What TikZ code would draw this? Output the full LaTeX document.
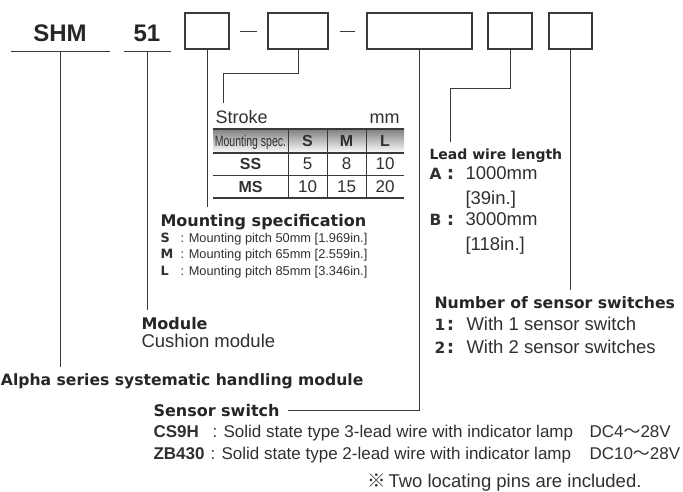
\documentclass[tikz,border=0pt]{standalone}
\usepackage{fontspec}
\setmainfont{Liberation Sans}
\newfontfamily\dejavu{DejaVu Sans}
\newfontfamily\cjk{Noto Sans CJK JP}
\usepackage{xcolor}
\usepackage{graphicx}
\usepackage{tikz}
\definecolor{ink}{HTML}{303030}
\definecolor{wire}{HTML}{3A3A3A}
\definecolor{shade}{HTML}{E4E4E4}
\newcommand{\fs}[1]{\fontsize{#1}{#1}\selectfont}

\begin{document}
\begin{tikzpicture}[x=1pt, y=-1pt, line width=1pt, wire,
  txt/.style={anchor=base west, inner sep=0pt, text=ink},
  head/.style={txt, text=black!85, font=\dejavu\bfseries\fs{16}},
  body/.style={txt, font=\fs{18.5}},
  pitch/.style={txt, font=\fs{12.8}},
  swrow/.style={txt, font=\fs{17}},
  series/.style={anchor=south, inner sep=0pt, text depth=9pt, text=black!85, font=\bfseries\fs{24}},
  codebox/.style={draw=wire, line width=1.2pt, minimum height=36pt, inner sep=0pt},
  tcell/.style={anchor=base, inner sep=0pt, text=ink, font=\fs{17}},
  leader/.style={shorten >=6pt}]
  \useasboundingbox (0,0) rectangle (683,491);

  \node[series, minimum width=98pt] (shm) at (60,51) {SHM};
  \node[series, minimum width=46pt] (num) at (147,51) {51};
  \draw (shm.south west) -- (shm.south east);
  \draw (num.south west) -- (num.south east);

  \node[codebox, minimum width=44pt] (b1) at (207,31) {};
  \node[codebox, minimum width=60pt] (b2) at (298,31) {};
  \node[codebox, minimum width=105pt] (b3) at (419.5,31) {};
  \node[codebox, minimum width=44pt] (b4) at (510,31) {};
  \node[codebox, minimum width=43pt] (b5) at (570.5,31) {};
  \draw ([xshift=10pt]b1.east) -- ([xshift=-10pt]b2.west);
  \draw ([xshift=11pt]b2.east) -- ([xshift=-11pt]b3.west);

  \node[body, font=\fs{18}] (stroke) at (215,123) {Stroke};
  \node[body, font=\fs{18}, anchor=base east] (unit) at (400,123) {mm};
  \fill[shade] (213,129) rectangle (404,153);
  \draw[line width=2pt] (213,129) -- (404,129) (213,153) -- (404,153) (213,198) -- (404,198);
  \draw (213,175) -- (404,175);
  \foreach \x in {288,327,366} \draw (\x,129) -- (\x,198);
  \node[tcell] (spec) at (250.5,146) {\fs{15}\scalebox{0.7}[1]{Mounting spec.}};
  \foreach \c/\x in {S/307.5, M/346.5, L/385}
    \node[tcell, font=\bfseries\fs{16}] (h-\c) at (\x,146) {\c};
  \foreach \r/\y/\a/\b/\c in {SS/169/5/8/10, MS/192/10/15/20} {
    \node[tcell, font=\bfseries\fs{16}] (\r) at (250.5,\y) {\r};
    \node[tcell] (\r-s) at (307.5,\y) {\a};
    \node[tcell] (\r-m) at (346.5,\y) {\b};
    \node[tcell] (\r-l) at (385,\y) {\c};
  }

  \node[head] (mspec) at (160,226) {Mounting specification};
  \node[pitch] (pitch-s) at (160,242) {\makebox[20pt][l]{\dejavu\bfseries S}: Mounting pitch 50mm [1.969in.]};
  \node[pitch] (pitch-m) at (160,258.5) {\makebox[20pt][l]{\dejavu\bfseries M}: Mounting pitch 65mm [2.559in.]};
  \node[pitch] (pitch-l) at (160,275) {\makebox[20pt][l]{\dejavu\bfseries L}: Mounting pitch 85mm [3.346in.]};

  \node[head] (module) at (141,329) {Module};
  \node[body] (cushion) at (141,347) {Cushion module};
  \node[head, font=\dejavu\bfseries\fs{15.6}] (alpha) at (0.5,385) {Alpha series systematic handling module};

  \node[head, font=\dejavu\bfseries\fs{14}] (lead) at (429,159) {Lead wire length};
  \node[body] (lead-a) at (429,179) {\makebox[17pt][l]{\dejavu\bfseries\fs{15.5}A}\makebox[8pt][c]{\dejavu\bfseries :}\hspace{11pt}1000mm};
  \node[body] (lead-a2) at (465,204) {[39in.]};
  \node[body] (lead-b) at (429,225) {\makebox[17pt][l]{\dejavu\bfseries\fs{15.5}B}\makebox[8pt][c]{\dejavu\bfseries :}\hspace{11pt}3000mm};
  \node[body] (lead-b2) at (465,250) {[118in.]};

  \node[head, font=\dejavu\bfseries\fs{15.7}] (count) at (434,308) {Number of sensor switches};
  \node[body] (count-1) at (434,330) {\makebox[12pt][l]{\dejavu\bfseries\fs{15.5}1}\makebox[8pt][c]{\dejavu\bfseries :}\hspace{12pt}With 1 sensor switch};
  \node[body] (count-2) at (434,353) {\makebox[12pt][l]{\dejavu\bfseries\fs{15.5}2}\makebox[8pt][c]{\dejavu\bfseries :}\hspace{12pt}With 2 sensor switches};

  \node[head] (sensor) at (153,416) {Sensor switch};
  \node[swrow] (cs9h) at (153,437) {\makebox[59pt][l]{\bfseries\fs{17}CS9H}: Solid state type 3-lead wire with indicator lamp};
  \node[swrow] (cs9h-v) at (589,437) {DC4{\cjk ～}28V};
  \node[swrow] (zb430) at (153,459) {\makebox[57pt][l]{\bfseries\fs{17}ZB430}: Solid state type 2-lead wire with indicator lamp};
  \node[swrow] (zb430-v) at (589,459) {DC10{\cjk ～}28V};
  \node[body] (note) at (367,487) {{\cjk ※}\hspace{2.5pt}Two locating pins are included.};

  \draw[leader] (shm.south) -- (shm.south |- alpha.north);
  \draw[leader] (num.south) -- (num.south |- module.north);
  \draw[leader] (b1.south) -- (b1.south |- mspec.north);
  \draw[leader] (b2.south) -- ++(0,24) -| ([xshift=8pt]stroke.north west);
  \draw[leader] (b4.south) -- ++(0,39) -| ([xshift=21pt]lead.north west);
  \draw[leader] (b5.south) -- (b5.south |- count.north);
  \draw[shorten >=8pt] (b3.south) |- (sensor.east);
\end{tikzpicture}
\end{document}
